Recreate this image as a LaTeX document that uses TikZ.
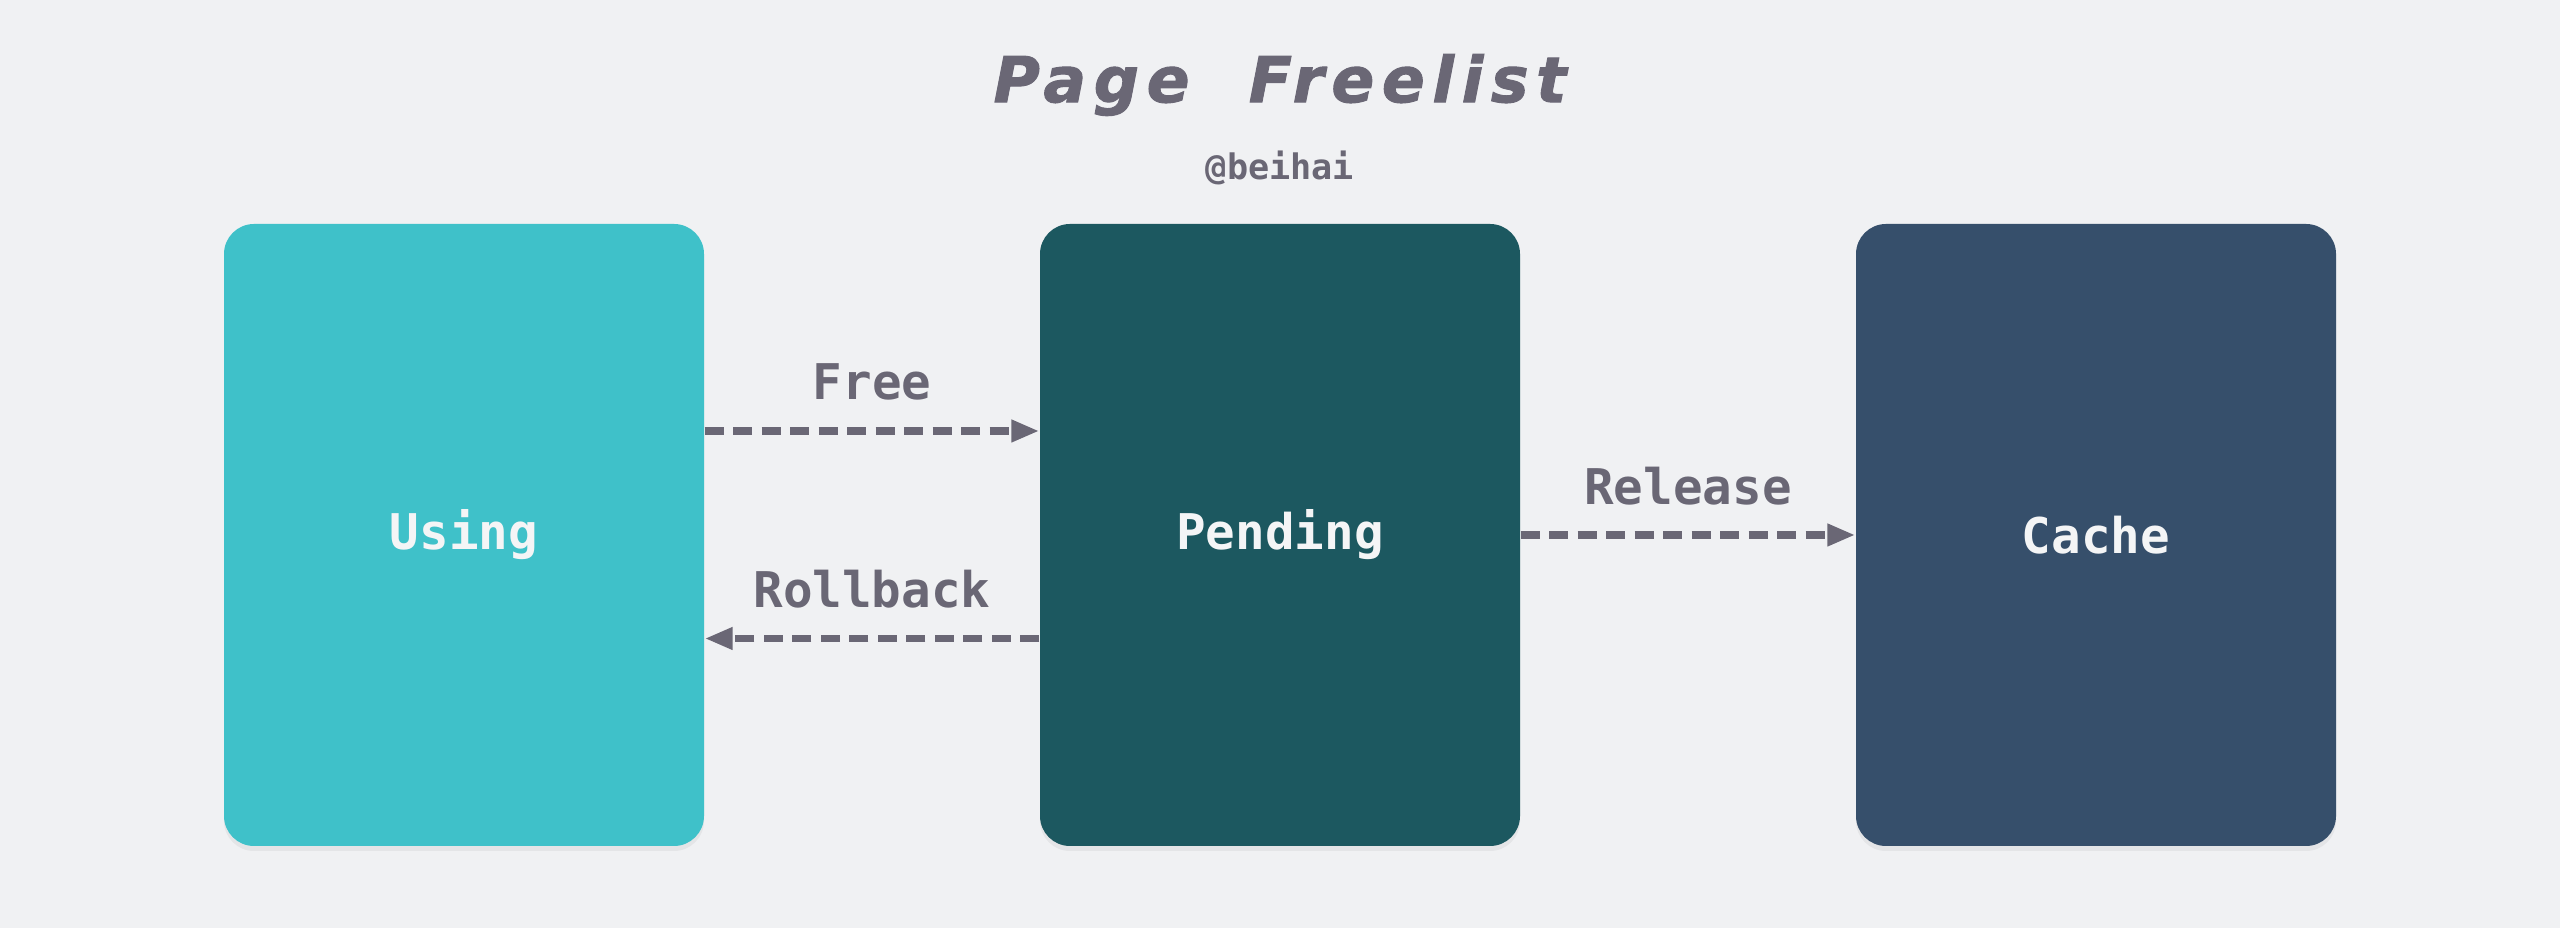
\documentclass[tikz,border=0pt]{standalone}
\usepackage{fontspec}
\setmonofont{DejaVu Sans Mono}
\newfontfamily\titlefont[LetterSpace=12,FakeBold=1.5]{DejaVu Sans}
\usetikzlibrary{arrows.meta,shadows}

\definecolor{bgc}{HTML}{F0F1F3}
\definecolor{txtc}{HTML}{6A6775}
\definecolor{usingc}{HTML}{3FC1C9}
\definecolor{pendc}{HTML}{1C5860}
\definecolor{cachec}{HTML}{364F6B}
\definecolor{boxtxt}{HTML}{F4F5F6}

\begin{document}
\begin{tikzpicture}

    \tikzstyle{box} = [rectangle, rounded corners=0.3cm, minimum width=4.8cm,
    minimum height=6.22cm, text=boxtxt, font=\ttfamily\bfseries\fontsize{14}{16}\selectfont,
    drop shadow={shadow xshift=0pt, shadow yshift=-0.05cm, opacity=0.1}]

    \tikzstyle{lbl} = [text=txtc, font=\ttfamily\bfseries\fontsize{14}{16}\selectfont]

    \tikzstyle{flow} = [draw=txtc, line width=0.075cm, dash pattern=on 0.19cm off 0.095cm,
    -{Triangle[length=0.28cm,width=0.21cm]}]

    \fill[bgc] (0,0) rectangle (25.6,-9.28);
    \useasboundingbox (0,0) rectangle (25.6,-9.28);

    \draw
    (12.8,-0.85) node [text=txtc, font=\titlefont\bfseries\itshape\fontsize{18}{20}\selectfont] (T) {Page\ \ Freelist}
    (12.8,-1.68) node [text=txtc, font=\ttfamily\bfseries\fontsize{10}{12}\selectfont] (S) {@beihai}
    (4.64,-5.35) node [box, fill=usingc] (U) {Using}
    (12.8,-5.35) node [box, fill=pendc] (P) {Pending}
    (20.96,-5.35) node [box, fill=cachec] (C) {Cache}
    ;

    \draw [flow] ([yshift=1.04cm]U.east) -- ([yshift=1.04cm]P.west)
      node [lbl, midway, yshift=0.49cm] {Free};
    \draw [flow] ([yshift=-1.035cm]P.west) -- ([yshift=-1.035cm]U.east)
      node [lbl, midway, yshift=0.49cm] {Rollback};
    \draw [flow] (P.east) -- (C.west)
      node [lbl, midway, yshift=0.49cm] {Release};
  \end{tikzpicture}
\end{document}
